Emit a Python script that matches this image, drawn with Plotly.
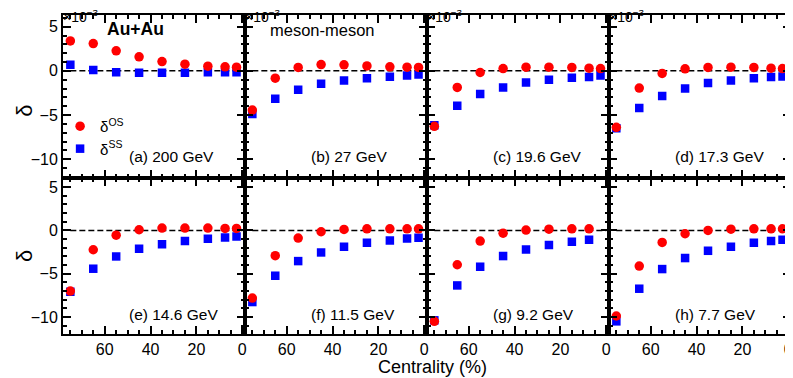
import plotly.graph_objects as go
from plotly.subplots import make_subplots

# centrality bin centres (%)
centrality = [75, 65, 55, 45, 35, 25, 15, 7.5, 2.5]

energies = ["200", "27", "19.6", "17.3", "14.6", "11.5", "9.2", "7.7"]
panel_tags = ["a", "b", "c", "d", "e", "f", "g", "h"]

# delta values in units of 1e-3
os_200 = [3.38, 3.08, 2.26, 1.58, 1.05, 0.75, 0.53, 0.45, 0.41]
ss_200 = [0.68, 0.08, -0.15, -0.23, -0.23, -0.23, -0.15, -0.15, -0.15]
os_27 = [-4.44, -0.83, 0.38, 0.71, 0.68, 0.56, 0.45, 0.41, 0.38]
ss_27 = [-4.89, -3.16, -2.14, -1.47, -1.09, -0.83, -0.68, -0.53, -0.41]
os_196 = [-6.28, -1.88, -0.19, 0.26, 0.41, 0.41, 0.38, 0.30, 0.26]
ss_196 = [-6.17, -3.95, -2.63, -1.88, -1.32, -1.02, -0.79, -0.71, -0.53]
os_173 = [-6.39, -1.95, -0.30, 0.23, 0.38, 0.41, 0.38, 0.30, 0.26]
ss_173 = [-6.50, -4.21, -2.86, -1.99, -1.39, -1.09, -0.83, -0.71, -0.64]
os_146 = [-7.00, -2.23, -0.54, 0.08, 0.27, 0.27, 0.27, 0.23, 0.23]
ss_146 = [-7.08, -4.42, -3.00, -2.12, -1.58, -1.23, -0.96, -0.81, -0.69]
os_115 = [-7.81, -2.92, -0.88, -0.15, 0.12, 0.19, 0.19, 0.19, 0.19]
ss_115 = [-8.27, -5.23, -3.54, -2.54, -1.88, -1.42, -1.15, -0.92, -0.85]
os_92 = [-10.50, -3.96, -1.23, -0.31, 0.04, 0.15, 0.19, 0.19]
ss_92 = [-10.38, -6.35, -4.19, -2.96, -2.19, -1.69, -1.31, -1.08]
os_77 = [-9.88, -4.12, -1.38, -0.38, 0.00, 0.15, 0.19, 0.19, 0.19]
ss_77 = [-10.50, -6.73, -4.46, -3.19, -2.35, -1.88, -1.42, -1.23, -1.08]

os_all = [os_200, os_27, os_196, os_173, os_146, os_115, os_92, os_77]
ss_all = [ss_200, ss_27, ss_196, ss_173, ss_146, ss_115, ss_92, ss_77]

FONT = "Liberation Sans, Arial, sans-serif"

fig = make_subplots(rows=2, cols=4, shared_xaxes=True, shared_yaxes=True,
                    horizontal_spacing=0, vertical_spacing=0,
                    row_heights=[162.7, 156.6])

for i in range(8):
    r, c = i // 4 + 1, i % 4 + 1
    n = len(os_all[i])
    fig.add_trace(go.Scatter(
        x=centrality[:n], y=ss_all[i], mode="markers",
        marker=dict(symbol="square", size=8.5, color="#0000ff", line=dict(width=0)),
        name="δ<sup>SS</sup>", legendrank=2, showlegend=(i == 0)), row=r, col=c)
    fig.add_trace(go.Scatter(
        x=centrality[:n], y=os_all[i], mode="markers",
        marker=dict(symbol="circle", size=9.5, color="#ff0000", line=dict(width=0)),
        name="δ<sup>OS</sup>", legendrank=1, showlegend=(i == 0)), row=r, col=c)

    sfx = "" if i == 0 else str(i + 1)
    # dashed zero line
    fig.add_shape(type="line", xref="x" + sfx, yref="y" + sfx,
                  x0=75, x1=0, y0=0, y1=0, layer="below",
                  line=dict(color="black", width=1.5, dash="6px,3px"))
    # energy label
    fig.add_annotation(xref="x%s domain" % sfx, yref="y%s domain" % sfx,
                       x=0.352, y=0.127 if r == 1 else 0.123,
                       xanchor="left", yanchor="middle", showarrow=False,
                       text="(%s) %s GeV" % (panel_tags[i], energies[i]),
                       font=dict(size=15.5, color="black"))
    if r == 1:
        fig.add_annotation(xref="x%s domain" % sfx, yref="y%s domain" % sfx,
                           x=0, y=1, xanchor="left", yanchor="bottom",
                           yshift=-12, xshift=-2, showarrow=False,
                           text="×10<sup>−3</sup>",
                           font=dict(size=14, color="black"))

fig.add_annotation(xref="x domain", yref="y domain", x=0.231, y=0.911,
                   xanchor="left", yanchor="middle", showarrow=False,
                   text="<b>Au+Au</b>", font=dict(size=17.5, color="black"))
fig.add_annotation(xref="x2 domain", yref="y2 domain", x=0.126, y=0.905,
                   xanchor="left", yanchor="middle", showarrow=False,
                   text="meson-meson", font=dict(size=16.5, color="black"))
fig.add_annotation(xref="paper", yref="paper", x=0.507, y=-0.1025,
                   xanchor="center", yanchor="middle", showarrow=False,
                   text="Centrality (%)", font=dict(size=18, color="black"))
# y titles, one per row
for ydom in (0.7, 0.245):
    fig.add_annotation(xref="paper", yref="paper", x=-0.052, y=ydom,
                       xanchor="center", yanchor="middle", showarrow=False,
                       textangle=-90, text="δ", font=dict(size=22, color="black"))

axis_style = dict(showline=True, linecolor="black", linewidth=2, mirror="ticks",
                  ticks="inside", ticklen=8, tickwidth=1.5, tickcolor="black",
                  showgrid=False, zeroline=False, automargin=False,
                  tickfont=dict(size=16, color="black"))

fig.update_xaxes(range=[78.2, -1.2], tick0=0, dtick=20,
                 minor=dict(ticks="inside", ticklen=4, tickwidth=1.5, dtick=5,
                            tickcolor="black", showgrid=False),
                 **axis_style)
fig.update_yaxes(tick0=0, dtick=5,
                 minor=dict(ticks="inside", ticklen=4, tickwidth=1.5, dtick=1,
                            tickcolor="black", showgrid=False),
                 **axis_style)
fig.update_yaxes(range=[-12.08, 6.32], row=1)
fig.update_yaxes(range=[-11.96, 6.11], row=2)

# the page body adds an 8px offset, so the figure is 8px smaller each way
fig.update_layout(
    width=785, height=370,
    margin=dict(l=55, r=2, t=7, b=44, autoexpand=False),
    paper_bgcolor="white", plot_bgcolor="white",
    font=dict(family=FONT, color="black"),
    showlegend=True,
    legend=dict(x=-0.004, y=0.7025, xanchor="left", yanchor="top",
                bgcolor="rgba(0,0,0,0)", font=dict(size=15),
                itemwidth=30, tracegroupgap=0),
)

fig.write_html("out.html")
